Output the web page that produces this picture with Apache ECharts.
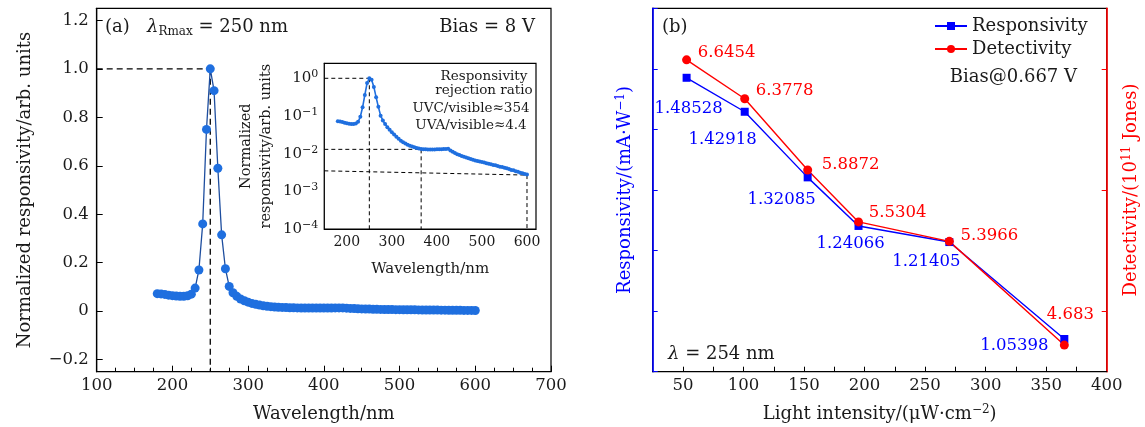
<!DOCTYPE html>
<html><head><meta charset="utf-8">
<script src="https://cdn.jsdelivr.net/npm/echarts@6/dist/echarts.min.js"></script>
<style>html,body{margin:0;padding:0;background:#fff}#c{width:1145px;height:427px}</style>
</head><body><div id="c"></div>
<script>
// ---------- data: panel (a) ----------
const wavelengths = [180,185,190,195,200,205,210,215,220,225,230,235,240,245,250,255,260,265,270,275,
  280,285,290,295,300,305,310,315,320,325,330,335,340,345,350,355,360,365,370,375,
  380,385,390,395,400,405,410,415,420,425,430,435,440,445,450,455,460,465,470,475,
  480,485,490,495,500,505,510,515,520,525,530,535,540,545,550,555,560,565,570,575,
  580,585,590,595,600];
const normResponsivity = [0.072,0.071,0.069,0.066,0.064,0.062,0.061,0.061,0.063,0.070,0.095,0.17,0.36,0.75,1.0,0.91,0.59,0.315,0.175,0.102,
  0.076,0.061,0.050,0.043,0.037,0.032,0.028,0.025,0.022,0.020,0.0185,0.0172,0.0162,0.0154,0.0147,0.0142,0.0137,0.0133,0.0131,0.0130,
  0.0129,0.0129,0.0129,0.0129,0.0130,0.0130,0.0131,0.0132,0.0133,0.0134,0.0122,0.0112,0.0104,0.0097,0.0092,0.0087,0.0083,0.0079,0.0075,0.0072,
  0.0069,0.0066,0.0064,0.0062,0.0060,0.0058,0.0056,0.0054,0.0052,0.0050,0.0049,0.0047,0.0045,0.0044,0.0042,0.0041,0.0039,0.0037,0.0036,0.0034,
  0.0033,0.0031,0.0030,0.0029,0.0028];
const peakWavelength = 250, peakValue = 1.0;
const uvaWavelength = 365, uvaLevel = 0.013;
const visWavelength = 600, visLevel = 0.0027, visLevelLeft = 0.0035;
const mainYTicks = [-0.2, 0, 0.2, 0.4, 0.6, 0.8, 1.0, 1.2];
const insetXLabels = [200, 300, 400, 500, 600];
const insetXTicks = [200, 250, 300, 350, 400, 450, 500, 550, 600];
// ---------- data: panel (b) ----------
const intensity = [53, 101, 153, 195, 270, 365];
const responsivity = [1.48528, 1.42918, 1.32085, 1.24066, 1.21405, 1.05398];
const detectivity = [6.6454, 6.3778, 5.8872, 5.5304, 5.3966, 4.683];
const bXLabels = [50, 100, 150, 200, 250, 300, 350, 400];
const bXTicks = [50, 75, 100, 125, 150, 175, 200, 225, 250, 275, 300, 325, 350, 375];
const detTicks = [4.9167, 5.75, 6.5833];

// ---------- styles ----------
const FF = 'DejaVu Serif';
const TXT = '#1a1a1a';
const BLUE = '#0000ff', RED = '#ff0000';
const respLabelOffsets = [[2,31],[-22,28],[-26,22],[-8,18],[-23,20],[-50,7]];
const detLabelOffsets = [[40,-7],[40,-8],[43,-5],[39,-9],[40,-6],[6,-30]];

const chart = echarts.init(document.getElementById('c'), null, {renderer: 'canvas'});
const specData = wavelengths.map((w, i) => [w, normResponsivity[i]]);
const dash = {color: '#000', width: 1.3, type: [6, 4]};
const dashS = {color: '#000', width: 1.0, type: [4, 3]};
function guide(pts, grid, style, z) {
  return {type: 'line', xAxisIndex: grid, yAxisIndex: grid, data: pts, symbol: 'none',
    lineStyle: style, silent: true, z: z, animation: false};
}

const option = {
  animation: false,
  backgroundColor: '#fff',
  grid: [
    {left: 96.7, top: 8.3, width: 454.3, height: 363.4, show: true, borderColor: '#000', borderWidth: 1.2, backgroundColor: 'transparent', outerBoundsMode: 'none', containLabel: false},
    {left: 324.3, top: 63.3, width: 211.7, height: 165.7, show: true, borderColor: '#000', borderWidth: 1.2, backgroundColor: '#fff', outerBoundsMode: 'none', containLabel: false, z: 5},
    {left: 652.7, top: 8.3, width: 454, height: 363.4, show: true, borderColor: '#000', borderWidth: 1.2, backgroundColor: 'transparent', outerBoundsMode: 'none', containLabel: false}
  ],
  xAxis: [
    {gridIndex: 0, type: 'value', min: 100, max: 700, interval: 100,
      axisLine: {onZero: false, lineStyle: {color: '#000', width: 1.2}},
      axisTick: {inside: true, length: 6, lineStyle: {color: '#000'}},
      minorTick: {show: true, splitNumber: 4, length: 4, lineStyle: {color: '#000'}},
      splitLine: {show: false}, minorSplitLine: {show: false},
      axisLabel: {fontFamily: FF, fontSize: 16.5, color: TXT, margin: 6},
      name: 'Wavelength/nm', nameLocation: 'middle', nameGap: 34, nameMoveOverlap: false,
      nameTextStyle: {fontFamily: FF, fontSize: 18, color: TXT}},
    {gridIndex: 1, type: 'value', min: 150, max: 620,
      axisLine: {onZero: false, lineStyle: {color: '#000', width: 1.2}},
      axisTick: {inside: true, length: 4, customValues: insetXTicks, lineStyle: {color: '#000'}},
      splitLine: {show: false},
      axisLabel: {fontFamily: FF, fontSize: 14, color: TXT, margin: 6, customValues: insetXLabels},
      name: 'Wavelength/nm', nameLocation: 'middle', nameGap: 33, nameMoveOverlap: false,
      nameTextStyle: {fontFamily: FF, fontSize: 15, color: TXT}},
    {gridIndex: 2, type: 'value', min: 25, max: 400,
      axisLine: {onZero: false, lineStyle: {color: '#000', width: 1.2}},
      axisTick: {inside: true, length: 5, customValues: bXTicks, lineStyle: {color: '#000'}},
      splitLine: {show: false},
      axisLabel: {fontFamily: FF, fontSize: 16.5, color: TXT, margin: 6, customValues: bXLabels},
      name: '{b|Light intensity/(μW·cm}{s|−2}{b|)}', nameLocation: 'middle', nameGap: 32, nameMoveOverlap: false,
      nameTextStyle: {rich: {
        b: {fontFamily: FF, fontSize: 18, color: TXT, lineHeight: 22},
        s: {fontFamily: FF, fontSize: 12, color: TXT, lineHeight: 12, verticalAlign: 'top'}}}}
  ],
  yAxis: [
    {gridIndex: 0, type: 'value', min: -0.25, max: 1.25,
      axisLine: {show: true, onZero: false, lineStyle: {color: '#000', width: 1.2}},
      axisTick: {show: true, inside: true, length: 6, customValues: mainYTicks, lineStyle: {color: '#000'}},
      splitLine: {show: false},
      axisLabel: {fontFamily: FF, fontSize: 16.5, color: TXT, margin: 8, customValues: mainYTicks,
        formatter: v => Math.abs(v) < 1e-9 ? '0' : (v < 0 ? '−' + (-v).toFixed(1) : v.toFixed(1))},
      name: 'Normalized responsivity/arb. units', nameLocation: 'middle', nameGap: 62, nameMoveOverlap: false,
      nameTextStyle: {fontFamily: FF, fontSize: 18, color: TXT}},
    {gridIndex: 1, type: 'log', logBase: 10, min: 1e-4, max: 2.5,
      axisLine: {show: true, onZero: false, lineStyle: {color: '#000', width: 1.2}},
      axisTick: {show: true, inside: true, length: 4, lineStyle: {color: '#000'}},
      splitLine: {show: false},
      axisLabel: {margin: 6, formatter: v => {
          const n = Math.log10(v); const r = Math.round(n);
          if (Math.abs(n - r) > 1e-6) return '';
          return '{b|10}{s|' + (r < 0 ? '−' + (-r) : '0') + '}';
        },
        rich: {b: {fontFamily: FF, fontSize: 15, color: TXT, lineHeight: 19},
               s: {fontFamily: FF, fontSize: 11, color: TXT, lineHeight: 11, verticalAlign: 'top'}}},
      name: 'Normalized\nresponsivity/arb. units', nameLocation: 'middle', nameGap: 48, nameMoveOverlap: false,
      nameTextStyle: {fontFamily: FF, fontSize: 14.5, color: TXT, lineHeight: 20}},
    {gridIndex: 2, type: 'value', min: 1.0, max: 1.6, interval: 0.1, position: 'left',
      axisLine: {show: true, onZero: false, lineStyle: {color: BLUE, width: 1.6}},
      axisTick: {show: true, inside: true, length: 5, lineStyle: {color: BLUE}},
      splitLine: {show: false}, axisLabel: {show: false},
      name: '{b|Responsivity/(mA·W}{s|−1}{b|)}', nameLocation: 'middle', nameGap: 16, nameMoveOverlap: false,
      nameTextStyle: {rich: {
        b: {fontFamily: FF, fontSize: 18, color: BLUE, lineHeight: 22},
        s: {fontFamily: FF, fontSize: 12, color: BLUE, lineHeight: 12, verticalAlign: 'top'}}}},
    {gridIndex: 2, type: 'value', min: 4.5, max: 7.0, position: 'right',
      axisLine: {show: true, onZero: false, lineStyle: {color: RED, width: 1.6}},
      axisTick: {show: true, inside: true, length: 5, customValues: detTicks, lineStyle: {color: RED}},
      splitLine: {show: false}, axisLabel: {show: false},
      name: '{b|Detectivity/(10}{s|11}{b| Jones)}', nameLocation: 'middle', nameGap: 14, nameMoveOverlap: false,
      nameTextStyle: {rich: {
        b: {fontFamily: FF, fontSize: 18, color: RED, lineHeight: 22},
        s: {fontFamily: FF, fontSize: 12, color: RED, lineHeight: 12, verticalAlign: 'top'}}}}
  ],
  legend: {
    data: ['Responsivity', 'Detectivity'], orient: 'vertical', left: 934, top: 16,
    itemWidth: 32, itemHeight: 10, itemGap: 3, padding: 0,
    textStyle: {fontFamily: FF, fontSize: 18, color: TXT, lineHeight: 20}
  },
  series: [
    guide([[100, peakValue], [peakWavelength, peakValue]], 0, dash, 1),
    guide([[peakWavelength, peakValue], [peakWavelength, -0.25]], 0, dash, 1),
    {type: 'line', name: 'spec', xAxisIndex: 0, yAxisIndex: 0, data: specData,
      symbol: 'circle', symbolSize: 9, showAllSymbol: true,
      itemStyle: {color: '#1f6fdf'}, lineStyle: {color: '#1d4d9e', width: 1.3}, z: 3},
    guide([[150, peakValue], [peakWavelength, peakValue]], 1, dashS, 7),
    guide([[peakWavelength, peakValue], [peakWavelength, 1e-4]], 1, dashS, 7),
    guide([[150, uvaLevel], [uvaWavelength, uvaLevel]], 1, dashS, 7),
    guide([[uvaWavelength, uvaLevel], [uvaWavelength, 1e-4]], 1, dashS, 7),
    guide([[150, visLevelLeft], [visWavelength, visLevel]], 1, dashS, 7),
    guide([[visWavelength, visLevel], [visWavelength, 1e-4]], 1, dashS, 7),
    {type: 'line', name: 'inset', xAxisIndex: 1, yAxisIndex: 1, data: specData,
      symbol: 'circle', symbolSize: 4, showAllSymbol: true,
      itemStyle: {color: '#1f6fdf'}, lineStyle: {color: '#1f6fdf', width: 1.6}, z: 8},
    {type: 'line', name: 'Responsivity', xAxisIndex: 2, yAxisIndex: 2,
      data: intensity.map((x, i) => ({value: [x, responsivity[i]],
        label: {show: true, position: 'inside', offset: respLabelOffsets[i], formatter: String(responsivity[i]),
          fontFamily: FF, fontSize: 16.5, color: BLUE, align: 'center', verticalAlign: 'middle'}})),
      symbol: 'rect', symbolSize: 8, itemStyle: {color: BLUE}, lineStyle: {color: BLUE, width: 1.4}, z: 4},
    {type: 'line', name: 'Detectivity', xAxisIndex: 2, yAxisIndex: 3,
      data: intensity.map((x, i) => ({value: [x, detectivity[i]],
        label: {show: true, position: 'inside', offset: detLabelOffsets[i], formatter: String(detectivity[i]),
          fontFamily: FF, fontSize: 16.5, color: RED, align: 'center', verticalAlign: 'middle'}})),
      symbol: 'circle', symbolSize: 9, itemStyle: {color: RED}, lineStyle: {color: RED, width: 1.4}, z: 4}
  ],
  graphic: [
    {type: 'text', x: 105, y: 27, style: {text: '(a)', fontFamily: FF, fontSize: 18, fill: TXT, verticalAlign: 'middle'}},
    {type: 'text', x: 147, y: 27, style: {text: '{i|λ}{sub|Rmax}{b| = 250 nm}', verticalAlign: 'middle',
      rich: {i: {fontFamily: FF, fontStyle: 'italic', fontSize: 18, fill: TXT, lineHeight: 22},
             sub: {fontFamily: FF, fontSize: 12, fill: TXT, lineHeight: 12, verticalAlign: 'bottom'},
             b: {fontFamily: FF, fontSize: 18, fill: TXT, lineHeight: 22}}}},
    {type: 'text', x: 535, y: 27, style: {text: 'Bias = 8 V', fontFamily: FF, fontSize: 18, fill: TXT, align: 'right', verticalAlign: 'middle'}},
    {type: 'text', x: 484, y: 76, z: 10, style: {text: 'Responsivity', fontFamily: FF, fontSize: 13.5, fill: TXT, align: 'center', verticalAlign: 'middle'}},
    {type: 'text', x: 484, y: 90, z: 10, style: {text: 'rejection ratio', fontFamily: FF, fontSize: 13.5, fill: TXT, align: 'center', verticalAlign: 'middle'}},
    {type: 'text', x: 471, y: 108, z: 10, style: {text: 'UVC/visible≈354', fontFamily: FF, fontSize: 13.5, fill: TXT, align: 'center', verticalAlign: 'middle'}},
    {type: 'text', x: 471, y: 125, z: 10, style: {text: 'UVA/visible≈4.4', fontFamily: FF, fontSize: 13.5, fill: TXT, align: 'center', verticalAlign: 'middle'}},
    {type: 'text', x: 662, y: 27, style: {text: '(b)', fontFamily: FF, fontSize: 18, fill: TXT, verticalAlign: 'middle'}},
    {type: 'text', x: 1077, y: 77, style: {text: 'Bias@0.667 V', fontFamily: FF, fontSize: 18, fill: TXT, align: 'right', verticalAlign: 'middle'}},
    {type: 'text', x: 668, y: 354, style: {text: '{i|λ}{b| = 254 nm}', verticalAlign: 'middle',
      rich: {i: {fontFamily: FF, fontStyle: 'italic', fontSize: 18, fill: TXT},
             b: {fontFamily: FF, fontSize: 18, fill: TXT}}}}
  ]
};
chart.setOption(option);
</script></body></html>
